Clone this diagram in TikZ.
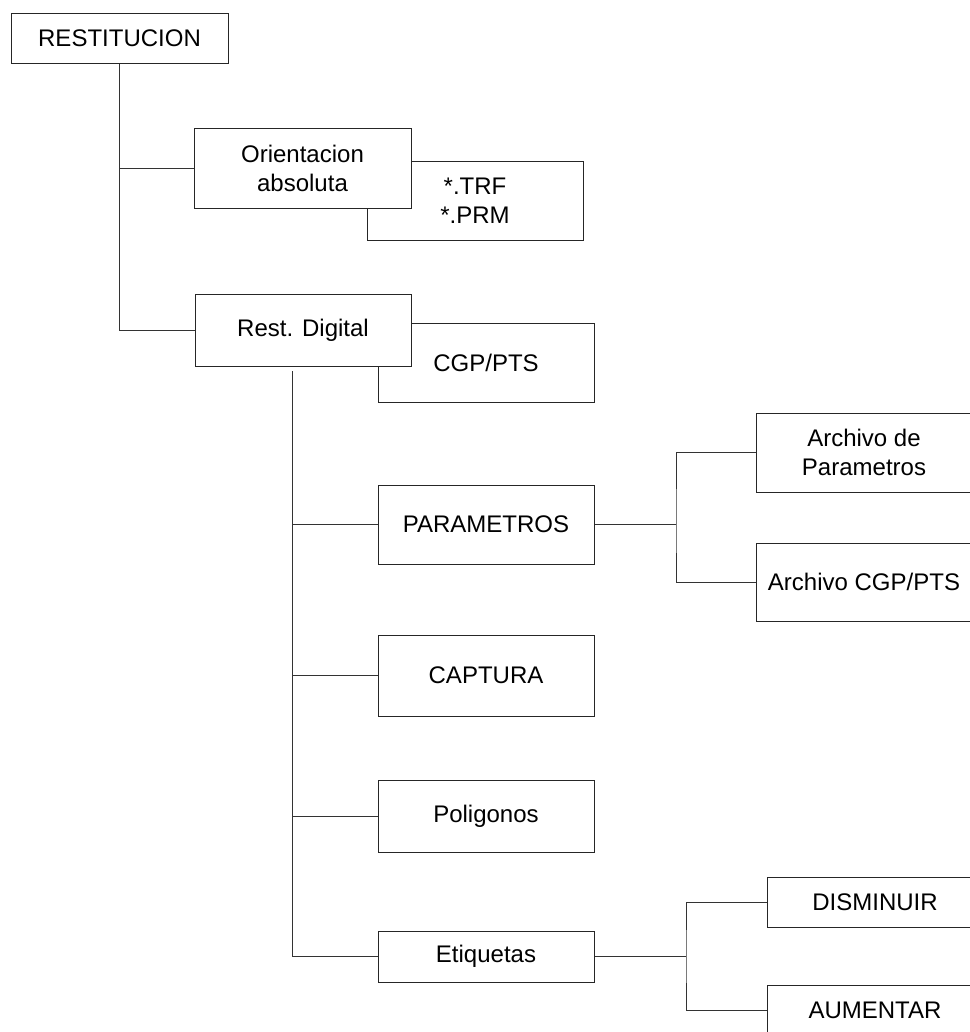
\documentclass[tikz,border=0pt]{standalone}
\usepackage{fontspec}
\setmainfont{Liberation Sans}
\begin{document}
\begin{tikzpicture}[x=0.75pt,y=-0.75pt,
  box/.style={draw=black!85, line width=0.75pt, fill=white, rectangle, inner sep=0pt, align=center,
    font=\fontsize{18pt}{21.75pt}\selectfont},
  conn/.style={draw=black!80, line width=0.75pt}]
\useasboundingbox (0,0) rectangle (970,1032);
\clip (0,0) rectangle (970,1032);
% back boxes
\node[box, minimum width=162pt, minimum height=59.25pt] (trf) at (475,200.5) {*.TRF\\*.PRM};
\node[box, minimum width=162pt, minimum height=59.25pt] (cgp) at (486,362.5) {CGP/PTS};
% front boxes
\node[box, minimum width=162.75pt, minimum height=37.5pt] (rest) at (119.5,38) {RESTITUCION};
\node[box, minimum width=162.75pt, minimum height=60pt] (orient) at (302.5,168) {Orientacion\\absoluta};
\node[box, minimum width=162pt, minimum height=54pt] (digital) at (303,330) {Rest. Digital};
\node[box, minimum width=162pt, minimum height=59.25pt] (param) at (486,524.5) {PARAMETROS};
\node[box, minimum width=162pt, minimum height=59.25pt] (arch1) at (864,452.5) {Archivo de\\Parametros};
\node[box, minimum width=162pt, minimum height=58.5pt] (arch2) at (864,582) {Archivo CGP/PTS};
\node[box, minimum width=162pt, minimum height=60.75pt] (captura) at (486,675.5) {CAPTURA};
\node[box, minimum width=162pt, minimum height=54pt] (polig) at (486,816) {Poligonos};
\node[box, minimum width=162pt, minimum height=38.25pt] (etiq) at (486,956.5) {Etiquetas};
\node[box, minimum width=162pt, minimum height=37.5pt] (dism) at (875,902) {DISMINUIR};
\node[box, minimum width=162pt, minimum height=37.5pt] (aum) at (875,1010) {AUMENTAR};
% connectors
\draw[conn] (rest.south) |- (digital.west);
\draw[conn] (orient.west) -- (orient.west -| rest.south);
\coordinate (dtop) at (292,371);
\draw[conn] (dtop) |- (etiq.west);
\draw[conn] (param.west) -- (param.west -| dtop);
\draw[conn] (captura.west) -- (captura.west -| dtop);
\draw[conn] (polig.west) -- (polig.west -| dtop);
\coordinate (pbr) at (676,524.5);
\draw[conn] (param.east) -- (pbr);
\draw[conn] (arch1.west) -| (pbr) |- (arch2.west);
\coordinate (ebr) at (686,956.5);
\draw[conn] (etiq.east) -- (ebr);
\draw[conn] (dism.west) -| (ebr) |- (aum.west);
\end{tikzpicture}
\end{document}
